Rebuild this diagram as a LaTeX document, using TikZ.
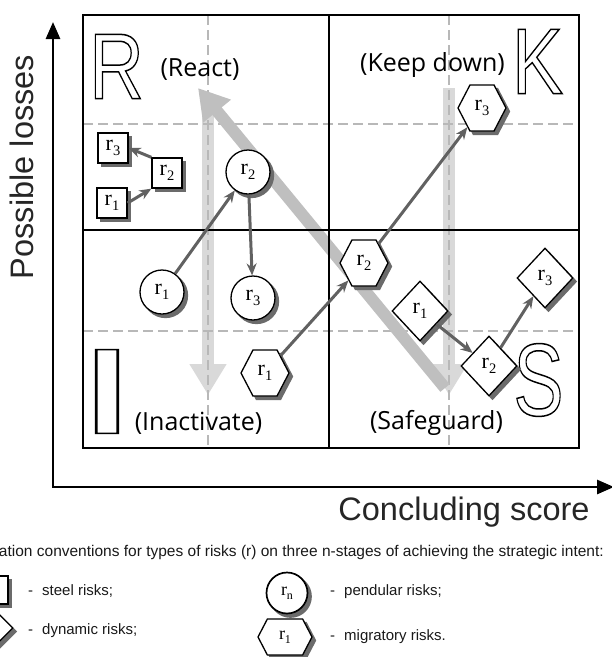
\documentclass[tikz,border=0pt]{standalone}
\usepackage{fontspec}
\setmainfont{Liberation Sans}
\newfontfamily\lblfont{Open Sans}
\newfontfamily\serfont{Liberation Serif}
\usetikzlibrary{shapes.geometric,shapes.symbols,arrows.meta,calc}
\newcommand{\outl}[1]{\special{pdf:literal direct 1 Tr 1.5 w}#1\special{pdf:literal direct 0 Tr 0.4 w}}
\newcommand{\rl}[1]{{\serfont\fontsize{22}{22}\selectfont r\raisebox{-0.22em}{\fontsize{14.5}{14.5}\selectfont #1}}}
\newcommand{\rls}[1]{{\serfont\fontsize{18}{18}\selectfont r\raisebox{-0.22em}{\fontsize{12}{12}\selectfont #1}}}
% risk node with its shadow: style, name, position, label
\newcommand{\risknode}[4]{%
  \node[#1,shdcopy] (#2sh) at ($#3+(3.5,3.5)$) {\phantom{#4}};
  \node[#1] (#2) at #3 {#4};}
\begin{document}
\begin{tikzpicture}[x=1pt,y=-1pt,
 rsk/.style={draw=black,fill=white,line width=1.3pt,inner sep=0pt},
 shdcopy/.style={fill=black!58,draw=black!58},
 sq/.style={rsk,rectangle,minimum size=30pt},
 circ/.style={rsk,circle,minimum size=44pt},
 hex/.style={rsk,signal,signal to=west and east,signal pointer angle=125,minimum width=48pt,minimum height=46pt},
 dia/.style={rsk,diamond,minimum width=56pt,minimum height=60pt},
 lsq/.style={sq,minimum size=28pt},
 ldia/.style={dia,minimum width=38pt,minimum height=38pt},
 lcirc/.style={circ,minimum size=41pt,line width=1.7pt},
 lhex/.style={hex,minimum width=54pt,minimum height=36pt},
 conn/.style={draw=black!62,line width=3pt,-{Stealth[length=12pt,width=10pt]}},
 grid/.style={draw=black,line width=1.6pt},
 gdash/.style={draw=black!28,line width=2.2pt,dash pattern=on 10pt off 5pt},
 bigv/.style={draw=black!15,line width=12pt,-{Triangle[length=31pt,width=35pt]}},
 bigd/.style={draw=black!25,line width=12pt,-{Triangle[length=30pt,width=34pt]}},
 quad/.style={font=\lblfont\fontsize{25}{30}\selectfont,inner sep=0pt},
 axlab/.style={font=\fontsize{32.5}{36}\selectfont,text=black!85,inner sep=0pt},
 leg/.style={font=\fontsize{15}{18}\selectfont,text=black!90,inner sep=0pt,anchor=west},
]
\useasboundingbox (0,0) rectangle (612,657);
\clip (0,0) rectangle (612,657);
% light vertical arrows
\coordinate (lvT) at (208,100); \coordinate (lvB) at (208,395);
\coordinate (rvT) at (449,88);  \coordinate (rvB) at (449,395);
\draw[bigv] (lvT) -- (lvB);
\draw[bigv] (rvT) -- (rvB);
% dashed grid
\draw[gdash] (83,124) -- (579,124) (83,331) -- (579,331)
             (208,15) -- (208,448) (449,15) -- (449,448);
% diagonal arrow
\coordinate (dS) at (445,388); \coordinate (dT) at (198,88);
\draw[bigd] (dS) -- (dT);
% frame
\draw[grid] (83,15) rectangle (579,448);
\draw[grid] (329,15) -- (329,448) (83,230) -- (579,230);
% big letters
\node[inner sep=0pt] (R) at (116.5,66.5) {\scalebox{0.81}[1]{\fontsize{93.5}{100}\selectfont\outl{R}}};
\node[inner sep=0pt] (K) at (537.5,61.5) {\scalebox{0.82}[1]{\fontsize{93.5}{100}\selectfont\outl{K}}};
\node[inner sep=0pt] (I) at (107,391.5) {\scalebox{1.9}[1]{\fontsize{121.5}{130}\selectfont\outl{I}}};
\node[inner sep=0pt] (S) at (538.5,380) {\scalebox{0.73}[1]{\fontsize{103}{110}\selectfont\outl{S}}};
% quadrant labels
\node[quad] (react) at (200,70) {(React)};
\node[quad] (keep) at (432.5,65) {(Keep down)};
\node[quad] (inact) at (198.5,423) {(Inactivate)};
\node[quad] (safe) at (436.5,423) {(Safeguard)};
% risks
\risknode{sq}{s3}{(113,148)}{\rl{3}}
\risknode{sq}{s2}{(167,173)}{\rl{2}}
\risknode{sq}{s1}{(112,203)}{\rl{1}}
\risknode{circ}{c2}{(248,172)}{\rl{2}}
\risknode{circ}{c1}{(162,292)}{\rl{1}}
\risknode{circ}{c3}{(253,298)}{\rl{3}}
\risknode{hex}{h1}{(265,373)}{\rl{1}}
\risknode{hex}{h2}{(364,263)}{\rl{2}}
\risknode{hex}{h3}{(482,108)}{\rl{3}}
\risknode{dia}{d1}{(420,311)}{\rl{1}}
\risknode{dia}{d2}{(489,366)}{\rl{2}}
\risknode{dia}{d3}{(545,278)}{\rl{3}}
% connectors
\draw[conn] (s1.east) -- (s2.south west);
\draw[conn] (s2.north west) -- (s3.east);
\draw[conn] (c1) -- (c2);
\draw[conn] (c2) -- (c3);
\draw[conn] (h1) -- (h2);
\draw[conn] (h2) -- (h3);
\draw[conn] (d1) -- (d2);
\draw[conn] (d2) -- (d3);
% axes
\coordinate (O) at (53,487); \coordinate (Ytop) at (53,22); \coordinate (Xend) at (614,487);
\draw[line width=2.8pt,{Triangle[length=17pt,width=14pt]}-{Triangle[length=17pt,width=14pt]}] (Ytop) -- (O) -- (Xend);
\node[axlab,rotate=90] (yl) at (22,167) {Possible losses};
\node[axlab] (xl) at (464,512) {Concluding score};
% legend
\node[leg,anchor=base east,font=\fontsize{15.5}{18}\selectfont] (lt) at (604,556) {ation conventions for types of risks (r) on three n-stages of achieving the strategic intent:};
\risknode{lsq}{ls}{(-6,590)}{}
\risknode{ldia}{ld}{(-6,628)}{}
\node[leg] (lst) at (28,591) {-\hspace{9pt}steel risks;};
\node[leg] (ldt) at (28,631) {-\hspace{9pt}dynamic risks;};
\risknode{lcirc}{lc}{(287,593)}{\rls{n}}
\risknode{lhex}{lh}{(285,637)}{\rls{1}}
\node[leg] (lpt) at (330,592) {-\hspace{9pt}pendular risks;};
\node[leg] (lmt) at (330,637) {-\hspace{9pt}migratory risks.};
\end{tikzpicture}
\end{document}
